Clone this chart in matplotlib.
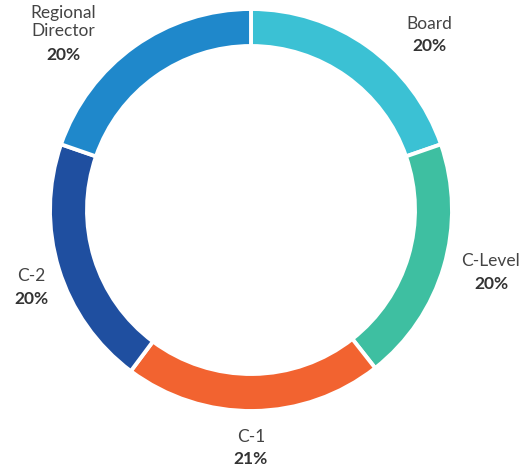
import matplotlib
matplotlib.use("Agg")
import matplotlib.pyplot as plt

# slice data, clockwise from the top
categories = ["Board", "C-Level", "C-1", "C-2", "Regional\nDirector"]
shares = [19.7, 19.7, 20.8, 20.1, 19.7]
pct_labels = ["20%", "20%", "21%", "20%", "20%"]
colors = ["#3bc1d4", "#3ebfa1", "#f26330", "#1f4fa0", "#1f88cb"]

# label anchors in pixel coords (x, y of name line centre, y of percentage)
label_pos = [(429, 24, 46), (491, 261, 284), (251, 437, 459),
             (31, 276, 299), (63, 22, 55)]

W, H = 529, 468
fig = plt.figure(figsize=(W / 100, H / 100), dpi=100)
ax = fig.add_axes([0, 0, 1, 1])

cx, cy, r = 251, H - 210, 201
ax.pie(shares, colors=colors, startangle=90, counterclock=False,
       center=(cx, cy), radius=r, frame=True,
       wedgeprops=dict(width=37, edgecolor="white", linewidth=2.8))
ax.set_xlim(0, W)
ax.set_ylim(0, H)
ax.set_aspect("equal")
ax.axis("off")

font = ["Lato", "DejaVu Sans"]
for name, pct, (x, yn, yp) in zip(categories, pct_labels, label_pos):
    ax.text(x, H - yn, name, ha="center", va="center", fontsize=12.5,
            color="#444444", family=font, linespacing=1.15)
    ax.text(x, H - yp, pct, ha="center", va="center", fontsize=12.5,
            color="#333333", family=font, fontweight="bold")

fig.savefig("out.png", dpi=100)
